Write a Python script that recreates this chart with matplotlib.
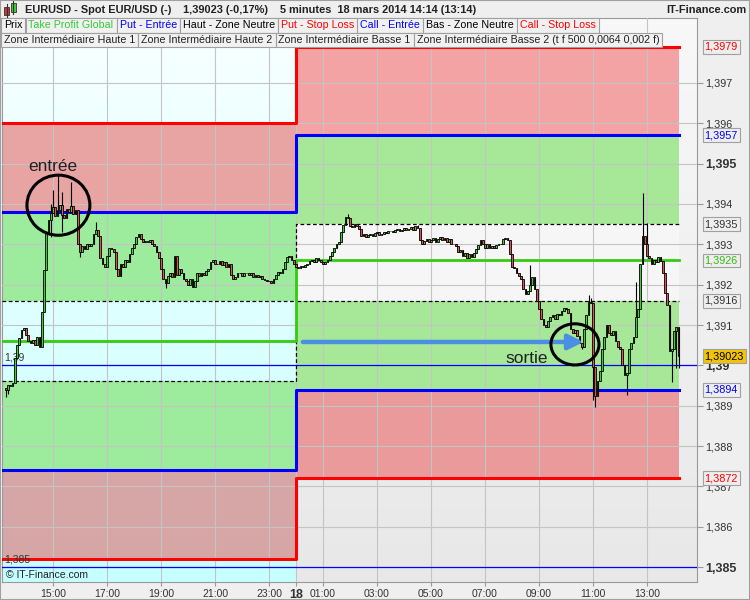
import numpy as np
import matplotlib.pyplot as plt
import matplotlib.transforms as mtransforms
from matplotlib.patches import Ellipse, Rectangle

plt.rcParams['font.family'] = ['Liberation Sans', 'DejaVu Sans']

# --- données : bougies 5 minutes EUR/USD, 17 mars 13:15 -> 18 mars 14:10 ---
# heures relatives au 18 mars 00:00
first_time = 13.25 - 24
step_h = 5 / 60
# clôtures en 1e-5 au-dessus de 1,38000
closes = [
    940, 952, 948, 956, 1018, 1050, 1068, 1088, 1092, 1075, 1060, 1055, 1063, 1050, 1070, 1045, 1132, 1236, 1330, 1360,
    1378, 1392, 1370, 1385, 1398, 1372, 1365, 1388, 1380, 1395, 1375, 1385, 1300, 1280, 1295, 1288, 1302, 1296, 1300, 1325,
    1335, 1320, 1266, 1250, 1245, 1270, 1290, 1288, 1280, 1240, 1222, 1250, 1245, 1262, 1255, 1275, 1290, 1300, 1318, 1325,
    1312, 1305, 1308, 1305, 1310, 1300, 1295, 1280, 1265, 1240, 1215, 1205, 1222, 1230, 1218, 1272, 1225, 1240, 1230, 1215,
    1208, 1200, 1215, 1195, 1210, 1228, 1222, 1230, 1225, 1235, 1240, 1255, 1262, 1252, 1250, 1258, 1248, 1255, 1245, 1250,
    1225, 1215, 1220, 1230, 1228, 1222, 1228, 1230, 1225, 1228, 1220, 1225, 1218, 1222, 1215, 1212, 1208, 1210, 1205, 1215,
    1225, 1232, 1228, 1240, 1255, 1268, 1270, 1262, 1250, 1245, 1242, 1246, 1243, 1248, 1250, 1258, 1262, 1255, 1265, 1260,
    1256, 1250, 1256, 1262, 1270, 1280, 1290, 1300, 1306, 1330, 1348, 1368, 1365, 1345, 1342, 1350, 1345, 1338, 1320, 1325,
    1318, 1322, 1325, 1320, 1328, 1330, 1322, 1326, 1330, 1327, 1332, 1333, 1330, 1335, 1338, 1332, 1336, 1340, 1335, 1338,
    1342, 1336, 1345, 1340, 1310, 1300, 1308, 1312, 1305, 1310, 1315, 1306, 1312, 1318, 1310, 1315, 1305, 1312, 1300, 1302,
    1295, 1280, 1285, 1270, 1278, 1265, 1275, 1268, 1278, 1288, 1298, 1310, 1300, 1292, 1302, 1290, 1295, 1290, 1298, 1302,
    1300, 1312, 1315, 1310, 1275, 1245, 1242, 1230, 1222, 1215, 1190, 1178, 1185, 1200, 1220, 1190, 1160, 1140, 1115, 1100,
    1095, 1110, 1120, 1125, 1115, 1128, 1125, 1135, 1142, 1140, 1130, 1090, 1080, 1088, 1072, 1055, 1045, 1090, 1125, 1158,
    1155, 995, 925, 960, 985, 1040, 1070, 1100, 1080, 1075, 1085, 1060, 1045, 1040, 1000, 975, 980, 1040, 1055, 1070,
    1120, 1140, 1250, 1320, 1300, 1270, 1265, 1250, 1262, 1255, 1268, 1258, 1230, 1180, 1150, 1035, 1040, 1085, 1095, 1023,
]
first_open = 945
# mèches marquantes (indice de bougie: valeur)
wick_high = {20: 1400, 21: 1435, 23: 1472, 25: 1430, 29: 1455, 40: 1355, 152: 1375, 183: 1348,
             233: 1249, 259: 1175, 260: 1168, 280: 1206, 283: 1427, 285: 1353}
wick_low = {0: 922, 1: 930, 20: 1318, 25: 1330, 33: 1268, 71: 1192, 256: 1040, 261: 915,
            262: 897, 276: 927, 296: 959, 298: 993, 299: 993}

# niveaux des zones : [17 mars, 18 mars]
put_stop = [1.3960, 1.3979]
put_entry = [1.3938, 1.3957]
neutral_high = [1.3916, 1.3935]
take_profit = [1.3906, 1.3926]
neutral_low = [1.3896, 1.3916]
call_entry = [1.3874, 1.3894]
call_stop = [1.3852, 1.3872]
last_price = 1.39023
round_levels = [1.390, 1.385]

x_ticks = [-9, -7, -5, -3, -1, 0, 1, 3, 5, 7, 9, 11, 13]
x_labels = ["15:00", "17:00", "19:00", "21:00", "23:00", "18", "01:00", "03:00",
            "05:00", "07:00", "09:00", "11:00", "13:00"]

legend_row1 = [("Prix", "#000000"), ("Take Profit Global", "#33cc33"), ("Put - Entrée", "#0000ff"),
               ("Haut - Zone Neutre", "#000000"), ("Put - Stop Loss", "#ff0000"),
               ("Call - Entrée", "#0000ff"), ("Bas - Zone Neutre", "#000000"), ("Call - Stop Loss", "#ff0000")]
legend_row2 = ["Zone Intermédiaire Haute 1", "Zone Intermédiaire Haute 2", "Zone Intermédiaire Basse 1",
               "Zone Intermédiaire Basse 2 (t f 500 0,0064 0,002 f)"]
title_parts = ["EURUSD - Spot EUR/USD (-)", "1,39023 (-0,17%)", "5 minutes  18 mars 2014 14:14 (13:14)"]

W, H = 750, 600
fig = plt.figure(figsize=(7.5, 6), dpi=100, facecolor="#efefef")
ax = fig.add_axes([2 / W, 18 / H, 695 / W, 564 / H])

x_min, x_max = -10.889, 14.85
y_min, y_max = 1.38463, 1.39861
zone_end = 14.2

# fonds dégradés (veille en cyan, jour en gris)
grad = np.linspace(0, 1, 100)[:, None]
left_bg = np.dstack([198 + 50 * grad, 255 + 0 * grad, 255 + 0 * grad]) / 255
right_bg = np.dstack([232 + 16 * grad] * 3) / 255
ax.imshow(left_bg, extent=[x_min, 0, y_min, y_max], origin="lower", aspect="auto", zorder=0)
ax.imshow(right_bg, extent=[0, x_max, y_min, y_max], origin="lower", aspect="auto", zorder=0)

# zones colorées
zones = [
    (put_entry, put_stop, "#e8a3a3", "#f3a3a3"),
    (neutral_high, put_entry, "#9deb9d", "#a6e898"),
    (neutral_low, neutral_high, None, "#f6f6f6"),
    (call_entry, neutral_low, "#9deb9d", "#a6e898"),
    (call_stop, call_entry, "#d6a6a6", "#ea9a9a"),
]
for low, high, c_left, c_right in zones:
    if c_left:
        ax.fill_between([x_min, 0], low[0], high[0], color=c_left, lw=0, zorder=1)
    ax.fill_between([0, zone_end], low[1], high[1], color=c_right, lw=0, zorder=1)

ax.set_axisbelow(False)
ax.grid(True, color="#c4c4c4", lw=0.8)

xs = [x_min, 0, 0, zone_end]


def steps(lv):
    return [lv[0], lv[0], lv[1], lv[1]]


for lv in (neutral_high, neutral_low):
    ax.plot(xs, steps(lv), color="black", lw=0.9, ls=(0, (3, 2)), zorder=3)
ax.plot(xs, steps(take_profit), color="#33cc11", lw=2.0, zorder=3)
for lv in (put_entry, call_entry):
    ax.plot(xs, steps(lv), color="#0000ff", lw=2.2, zorder=3)
for lv in (put_stop, call_stop):
    ax.plot(xs, steps(lv), color="#ff0000", lw=2.2, zorder=3)
for lv in round_levels:
    ax.axhline(lv, color="#0000ff", lw=0.9, zorder=3)
    ax.text(x_min + 0.1, lv + 0.00006, f"{lv:.3f}".rstrip("0").replace(".", ","),
            fontsize=7.5, color="#333333", va="bottom", zorder=4)

# bougies
c = 1.38 + np.array(closes) * 1e-5
o = np.r_[1.38 + first_open * 1e-5, c[:-1]]
t = first_time + np.arange(len(c)) * step_h
hi = np.maximum(o, c)
lo = np.minimum(o, c)
for k, v in wick_high.items():
    hi[k] = 1.38 + v * 1e-5
for k, v in wick_low.items():
    lo[k] = 1.38 + v * 1e-5
up = c >= o
ax.vlines(t, lo, hi, color="black", lw=0.8, zorder=5)
ax.bar(t, np.maximum(np.abs(c - o), 0.00002), bottom=np.minimum(o, c), width=0.066,
       color=np.where(up, "#44cc33", "#d9534f"), edgecolor="black", linewidth=0.6, zorder=6)

# annotations
ax.add_patch(Ellipse((-8.8, 1.39397), 2.33, 0.00149, fill=False, ec="black", lw=2.2, zorder=8))
ax.text(-9.0, 1.39494, "entrée", fontsize=12.5, color="#222222", ha="center", va="center", zorder=8)
ax.add_patch(Ellipse((10.33, 1.39052), 1.78, 0.00102, fill=False, ec="black", lw=2.2, zorder=8))
ax.text(8.56, 1.39018, "sortie", fontsize=12.5, color="#222222", ha="center", va="center", zorder=8)
ax.annotate("", xy=(10.75, 1.39058), xytext=(0.15, 1.39058),
            arrowprops=dict(arrowstyle="-|>,head_length=0.9,head_width=0.45", color="#4a90e2", lw=3.2),
            zorder=7)
ax.text(0.006, 0.004, "© IT-Finance.com", transform=ax.transAxes, fontsize=7.5, color="#222222",
        va="bottom", zorder=9)

ax.set_xlim(x_min, x_max)
ax.set_ylim(y_min, y_max)

# axe des temps
ax.set_xticks(x_ticks)
ax.set_xticklabels(x_labels, fontsize=7.5, color="#333333")
for lab, txt in zip(ax.get_xticklabels(), x_labels):
    if txt == "18":
        lab.set_fontweight("bold")
        lab.set_fontsize(9)
ax.tick_params(axis="x", length=3, color="#999999", pad=2)

# axe des prix à droite
y_ticks = np.round(np.arange(1.385, 1.3975, 0.001), 3)
ax.yaxis.tick_right()
ax.set_yticks(y_ticks)
y_labels = [f"{v:.3f}".rstrip("0").replace(".", ",") for v in y_ticks]
ax.set_yticklabels(y_labels, fontsize=7.8, color="#333333")
for lab, v in zip(ax.get_yticklabels(), y_ticks):
    if round(v * 1000) % 5 == 0:
        lab.set_fontweight("bold")
        lab.set_fontsize(9)
ax.tick_params(axis="y", length=4, color="#999999", pad=2)
for sp in ax.spines.values():
    sp.set_color("#9a9a9a")
    sp.set_linewidth(0.8)

trans = mtransforms.blended_transform_factory(ax.transAxes, ax.transData)
box_labels = [
    (put_stop[1], "1,3979", "#ff0000", "#eeeeee"),
    (put_entry[1], "1,3957", "#0000ff", "#eeeeee"),
    (neutral_high[1], "1,3935", "#333333", "#eeeeee"),
    (take_profit[1], "1,3926", "#33bb11", "#eeeeee"),
    (neutral_low[1], "1,3916", "#333333", "#eeeeee"),
    (last_price, "1,39023", "#000000", "#f5c400"),
    (call_entry[1], "1,3894", "#0000ff", "#eeeeee"),
    (call_stop[1], "1,3872", "#ff0000", "#eeeeee"),
]
for val, txt, col, bg in box_labels:
    ax.text(1.011, val, txt, transform=trans, fontsize=7.8, color=col, va="center", ha="left",
            bbox=dict(boxstyle="square,pad=0.18", fc=bg, ec="#a0a0a0", lw=0.8), clip_on=False, zorder=10)

# en-tête
fig.canvas.draw()
renderer = fig.canvas.get_renderer()


def fx(px):
    return px / W


def fy(py):
    return 1 - py / H


def legend_row(items, y_top, height):
    x = 1
    for txt, col in items:
        tx = fig.text(fx(x + 3), fy(y_top + height / 2), txt, fontsize=7.7, color=col, va="center", zorder=11)
        w = tx.get_window_extent(renderer).width
        fig.add_artist(Rectangle((fx(x), fy(y_top + height)), (w + 6) / W, height / H,
                                 transform=fig.transFigure, fc="#f1f1f1", ec="#a0a0a0", lw=0.8, zorder=10))
        x += w + 6


legend_row(legend_row1, 18, 15)
legend_row([(s, "#222222") for s in legend_row2], 33, 14)

x = 25
for part in title_parts:
    tx = fig.text(fx(x), fy(10), part, fontsize=7.9, fontweight="bold", color="#222222", va="center")
    x += tx.get_window_extent(renderer).width + 12
fig.text(fx(746), fy(10), "IT-Finance.com", fontsize=7.9, fontweight="bold", color="#222222",
         va="center", ha="right")

# petite icône chandeliers
fig.add_artist(plt.Line2D([fx(6.5), fx(6.5)], [fy(4), fy(17)], color="#333333", lw=0.8, transform=fig.transFigure))
fig.add_artist(Rectangle((fx(4), fy(15)), 5 / W, 8 / H, transform=fig.transFigure, fc="#cc3333", ec="#333333", lw=0.6))
fig.add_artist(plt.Line2D([fx(13), fx(13)], [fy(1), fy(14)], color="#333333", lw=0.8, transform=fig.transFigure))
fig.add_artist(Rectangle((fx(10.5), fy(12)), 5 / W, 9 / H, transform=fig.transFigure, fc="#44cc33", ec="#333333", lw=0.6))

fig.add_artist(Rectangle((0, 0), 1, 1, transform=fig.transFigure, fill=False, ec="#a0a0a0", lw=1.5))

fig.savefig("out.png", dpi=100, facecolor=fig.get_facecolor())
